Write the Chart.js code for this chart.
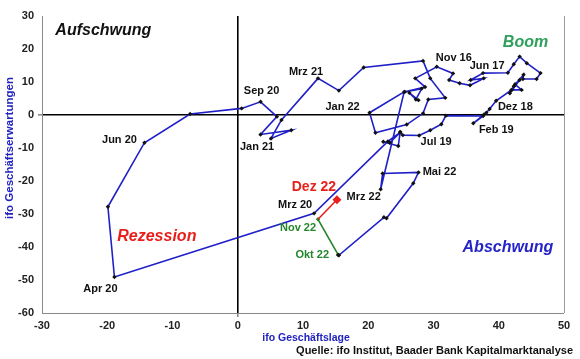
<!DOCTYPE html>
<html>
<head>
<meta charset="utf-8">
<script src="https://cdn.jsdelivr.net/npm/chart.js@4.4.1/dist/chart.umd.min.js"></script>
<style>
  html, body { margin: 0; padding: 0; background: #fff; }
  #wrap { position: relative; width: 580px; height: 359px; }
</style>
</head>
<body>
<div id="wrap"><canvas id="chart" width="580" height="359"></canvas></div>
<script>
// ifo Konjunkturuhr: Monat, Geschäftslage (x), Geschäftserwartungen (y)
const months = [
  "Apr 16", "Mai 16", "Jun 16", "Jul 16", "Aug 16", "Sep 16", "Okt 16", "Nov 16", "Dez 16",
  "Jan 17", "Feb 17", "Mrz 17", "Apr 17", "Mai 17", "Jun 17", "Jul 17", "Aug 17", "Sep 17", "Okt 17", "Nov 17", "Dez 17",
  "Jan 18", "Feb 18", "Mrz 18", "Apr 18", "Mai 18", "Jun 18", "Jul 18", "Aug 18", "Sep 18", "Okt 18", "Nov 18", "Dez 18",
  "Jan 19", "Feb 19", "Mrz 19", "Apr 19", "Mai 19", "Jun 19", "Jul 19", "Aug 19", "Sep 19", "Okt 19", "Nov 19", "Dez 19",
  "Jan 20", "Feb 20", "Mrz 20", "Apr 20", "Mai 20", "Jun 20", "Jul 20", "Aug 20", "Sep 20", "Okt 20", "Nov 20", "Dez 20",
  "Jan 21", "Feb 21", "Mrz 21", "Apr 21", "Mai 21", "Jun 21", "Jul 21", "Aug 21", "Sep 21", "Okt 21", "Nov 21", "Dez 21",
  "Jan 22", "Feb 22", "Mrz 22", "Apr 22", "Mai 22", "Jun 22", "Jul 22", "Aug 22", "Sep 22", "Okt 22", "Nov 22", "Dez 22"
];
const lage = [
  27.7, 26.3, 27.3, 28.2, 25.6, 28.7, 27.2, 30.5, 33.0,
  32.4, 34.0, 35.6, 37.7, 35.7, 37.6, 41.4, 42.3, 43.2, 44.3, 46.4, 45.8,
  43.7, 43.8, 42.5, 43.5, 42.0, 43.2, 41.7, 42.3, 41.9, 39.6, 38.6, 38.1,
  37.7, 36.1, 37.6, 31.9, 31.2, 29.5, 27.8, 25.3, 24.9, 24.6, 22.3, 23.3,
  24.9, 23.0, 11.7, -18.9, -19.9, -14.3, -7.3, 0.6, 3.5, 6.0, 3.5, 8.2,
  5.1, 6.7, 12.3, 15.5, 19.3, 28.4, 29.5, 31.8, 29.2, 28.4, 25.9, 21.1,
  20.2, 25.5, 21.9, 22.2, 27.7, 26.9, 22.8, 22.4, 15.5, 15.4, 12.3, 15.2
];
const erwartungen = [
  4.5, 6.7, 4.7, 8.0, 7.0, 8.5, 11.1, 14.6, 12.6,
  10.6, 9.6, 9.0, 11.1, 10.6, 12.7, 12.8, 15.4, 17.7, 15.7, 12.7, 10.9,
  10.9, 12.2, 9.3, 7.6, 7.6, 10.6, 6.6, 8.7, 7.5, 4.3, 1.8, 0.7,
  0.1, -2.5, -0.3, -0.2, -2.8, -4.6, -6.2, -6.1, -5.1, -9.4, -8.1, -8.4,
  -5.3, -8.0, -29.8, -49.1, -27.8, -8.4, 0.3, 2.0, 4.0, -0.5, -5.9, -4.6,
  -7.1, -1.5, 11.1, 7.4, 14.4, 16.4, 11.1, 5.2, 4.7, 0.5, -2.9, -5.4,
  0.7, 7.0, -22.5, -17.7, -17.4, -20.7, -31.3, -31.0, -42.5, -42.4, -31.6, -25.7
];
const xTicks = [-30, -20, -10, 0, 10, 20, 30, 40, 50];
const yTicks = [-60, -50, -40, -30, -20, -10, 0, 10, 20, 30];

const BLUE = "#1f1fc8";
const GREEN = "#23862b";
const RED = "#e8201c";

const pts = months.map((m, i) => ({ x: lage[i], y: erwartungen[i] }));
const iOkt = months.indexOf("Okt 22");
const iNov = months.indexOf("Nov 22");
const iDez = months.indexOf("Dez 22");

// Beschriftungen an Punkten (Versatz in Pixel)
const pointLabels = [
  { m: "Nov 16", dx: 17, dy: -9 },
  { m: "Jun 17", dx: 4, dy: -7 },
  { m: "Dez 18", dx: 29, dy: -6 },
  { m: "Feb 19", dx: 23, dy: 7 },
  { m: "Jul 19", dx: 17, dy: 7 },
  { m: "Mrz 20", dx: -19, dy: -8 },
  { m: "Apr 20", dx: -14, dy: 12 },
  { m: "Jun 20", dx: -25, dy: -3 },
  { m: "Sep 20", dx: 1, dy: -11 },
  { m: "Jan 21", dx: -14, dy: 9 },
  { m: "Mrz 21", dx: -12, dy: -6 },
  { m: "Jan 22", dx: -27, dy: -6 },
  { m: "Mrz 22", dx: -17, dy: 8 },
  { m: "Mai 22", dx: 21, dy: 0 },
  { m: "Okt 22", dx: -26, dy: 0, color: GREEN },
  { m: "Nov 22", dx: -20, dy: 9, color: GREEN },
  { m: "Dez 22", dx: -23, dy: -13, color: RED, size: 14 }
];
const phases = [
  { text: "Aufschwung", x: -20.6, y: 25.7, color: "#111" },
  { text: "Boom", x: 44.1, y: 22.0, color: "#2ea05c" },
  { text: "Rezession", x: -12.4, y: -36.9, color: RED },
  { text: "Abschwung", x: 41.4, y: -40.2, color: "#2424c8" }
];

const FONT = "'Liberation Sans', Arial, sans-serif";

const textPlugin = {
  id: "texts",
  afterDatasetsDraw(chart) {
    const { ctx, chartArea, scales } = chart;
    const sx = scales.x, sy = scales.y;
    ctx.save();
    // rechter Rahmen
    ctx.strokeStyle = "#9a9a9a";
    ctx.lineWidth = 1;
    ctx.beginPath();
    ctx.moveTo(chartArea.right + 0.5, chartArea.top);
    ctx.lineTo(chartArea.right + 0.5, chartArea.bottom);
    ctx.stroke();

    ctx.textAlign = "center";
    ctx.textBaseline = "middle";
    pointLabels.forEach(l => {
      const i = months.indexOf(l.m);
      const px = sx.getPixelForValue(lage[i]) + l.dx;
      const py = sy.getPixelForValue(erwartungen[i]) + l.dy;
      ctx.font = `bold ${l.size || 11}px ${FONT}`;
      ctx.fillStyle = l.color || "#111";
      ctx.fillText(l.m, px, py);
    });
    phases.forEach(p => {
      ctx.font = `italic bold 16px ${FONT}`;
      ctx.fillStyle = p.color;
      ctx.fillText(p.text, sx.getPixelForValue(p.x), sy.getPixelForValue(p.y));
    });

    // Achsentitel und Quelle
    ctx.fillStyle = "#2222c0";
    ctx.font = `bold 10.5px ${FONT}`;
    ctx.fillText("ifo Geschäftslage", 306, 338);
    ctx.save();
    ctx.translate(10, 148);
    ctx.rotate(-Math.PI / 2);
    ctx.font = `bold 11.5px ${FONT}`;
    ctx.fillText("ifo Geschäftserwartungen", 0, 0);
    ctx.restore();
    ctx.fillStyle = "#111";
    ctx.font = `bold 11px ${FONT}`;
    ctx.textAlign = "right";
    ctx.fillText("Quelle: ifo Institut, Baader Bank Kapitalmarktanalyse", 573, 351);
    ctx.restore();
  }
};

const zeroGrid = {
  drawOnChartArea: true,
  drawTicks: true,
  tickLength: 4,
  tickColor: "#8a8a8a",
  color: c => (c.tick && c.tick.value === 0 ? "#000" : "rgba(0,0,0,0)"),
  lineWidth: c => (c.tick && c.tick.value === 0 ? 1.6 : 0)
};

new Chart(document.getElementById("chart"), {
  type: "scatter",
  data: {
    datasets: [
      {
        data: pts.slice(0, iOkt + 1),
        showLine: true,
        borderColor: BLUE,
        borderWidth: 1.6,
        pointStyle: "rectRot",
        pointRadius: 2.2,
        pointBackgroundColor: "#111",
        pointBorderWidth: 0,
        order: 3
      },
      {
        data: [pts[iOkt], pts[iNov]],
        showLine: true,
        borderColor: GREEN,
        borderWidth: 1.6,
        pointStyle: "rectRot",
        pointRadius: 2.2,
        pointBackgroundColor: [ "#111", GREEN ],
        pointBorderWidth: 0,
        order: 2
      },
      {
        data: [pts[iNov], pts[iDez]],
        showLine: true,
        borderColor: RED,
        borderWidth: 1.6,
        pointStyle: "rectRot",
        pointRadius: [0, 4.5],
        pointBackgroundColor: RED,
        pointBorderWidth: 0,
        order: 1
      }
    ]
  },
  options: {
    responsive: false,
    animation: false,
    devicePixelRatio: 1,
    events: [],
    layout: { padding: { left: 0, right: 16, top: 16, bottom: 26 } },
    plugins: { legend: { display: false }, tooltip: { enabled: false } },
    scales: {
      x: {
        type: "linear",
        min: -30, max: 50,
        afterBuildTicks: s => { s.ticks = xTicks.map(v => ({ value: v })); },
        afterFit: s => { s.height = 20; },
        border: { display: true, color: "#8a8a8a", width: 1 },
        grid: zeroGrid,
        ticks: { color: "#222", padding: 2, font: { family: FONT, size: 11, weight: "bold" } }
      },
      y: {
        type: "linear",
        min: -60, max: 30,
        afterBuildTicks: s => { s.ticks = yTicks.map(v => ({ value: v })); },
        afterFit: s => { s.width = 42; },
        border: { display: true, color: "#8a8a8a", width: 1 },
        grid: zeroGrid,
        ticks: { color: "#222", padding: 4, font: { family: FONT, size: 11, weight: "bold" } }
      }
    }
  },
  plugins: [textPlugin]
});
</script>
</body>
</html>
